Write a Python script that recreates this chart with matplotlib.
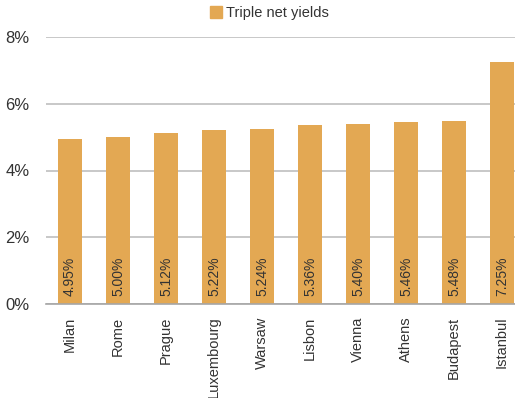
import matplotlib.pyplot as plt
from matplotlib.patches import Patch

cities = ["Milan", "Rome", "Prague", "Luxembourg", "Warsaw", "Lisbon",
          "Vienna", "Athens", "Budapest", "Istanbul"]
yields = [4.95, 5.00, 5.12, 5.22, 5.24, 5.36, 5.40, 5.46, 5.48, 7.25]

bar_color = "#E3A853"
text_color = "#333333"

plt.rcParams['font.family'] = ['Liberation Sans', 'DejaVu Sans']

fig = plt.figure(figsize=(5.15, 3.98), dpi=100)
W, H = 515, 398
# axes spans a bit past the right edge, like the cropped original
left, right, top, bottom = 46, 526, 37, 304
ax = fig.add_axes([left / W, 1 - bottom / H, (right - left) / W, (bottom - top) / H])

x = list(range(len(cities)))
ax.bar(x, yields, width=0.5, color=bar_color, zorder=2)

for xi, v in zip(x, yields):
    ax.text(xi, 0.24, f"{v:.2f}%", rotation=90, ha='center', va='bottom',
            fontsize=10, color=text_color, zorder=3)

ax.set_xlim(-0.5, len(cities) - 0.5)
ax.set_ylim(0, 8)
ax.set_yticks([0, 2, 4, 6, 8])
ax.set_yticklabels([f"{t}%" for t in [0, 2, 4, 6, 8]], fontsize=12, color=text_color)
ax.set_xticks(x)
ax.set_xticklabels(cities, rotation=90, fontsize=10.5, color=text_color)
ax.tick_params(axis='both', length=0)
ax.tick_params(axis='x', pad=9)
ax.tick_params(axis='y', pad=12)

ax.yaxis.grid(True, color="#BFBFBF", linewidth=1.2, zorder=0)
for s in ['top', 'right', 'left']:
    ax.spines[s].set_visible(False)
ax.spines['bottom'].set_color("#A6A6A6")
ax.spines['bottom'].set_linewidth(1.2)

fig.legend(handles=[Patch(color=bar_color, label="Triple net yields")],
           loc='center', bbox_to_anchor=(0.523, 1 - 13 / H), frameon=False,
           fontsize=10.5, handlelength=0.8, handleheight=0.8, handletextpad=0.3,
           labelcolor=text_color)

fig.savefig("out.png", dpi=100)
